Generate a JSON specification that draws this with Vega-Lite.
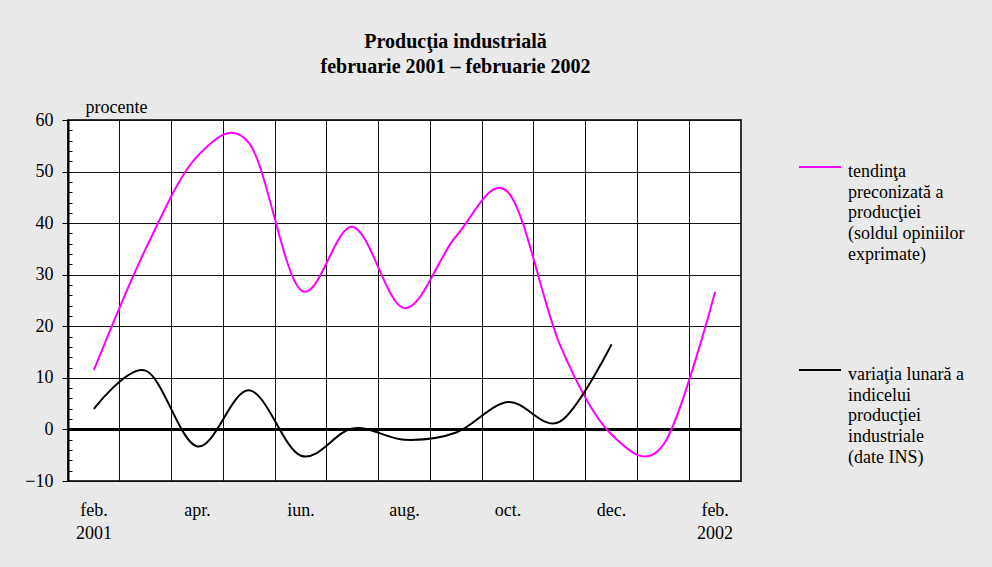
{
  "$schema": "https://vega.github.io/schema/vega-lite/v6.json",
  "autosize": {"type": "none"},
  "padding": {"left": 68, "top": 120, "right": 251, "bottom": 86},
  "width": 673,
  "height": 361,
  "background": "#e9e9e9",
  "title": {
    "text": ["Producţia industrială", "februarie 2001 – februarie 2002"],
    "anchor": "middle",
    "dx": 51,
    "offset": 21,
    "font": "Liberation Serif",
    "fontSize": 20,
    "fontWeight": "bold",
    "lineHeight": 25,
    "color": "#000"
  },
  "data": {
    "values": [
      {"luna": "feb. 2001", "serie": "tendinţa|preconizată a|producţiei|(soldul opiniilor|exprimate)", "v": 11.5},
      {"luna": "mar.", "serie": "tendinţa|preconizată a|producţiei|(soldul opiniilor|exprimate)", "v": 35},
      {"luna": "apr.", "serie": "tendinţa|preconizată a|producţiei|(soldul opiniilor|exprimate)", "v": 53},
      {"luna": "mai", "serie": "tendinţa|preconizată a|producţiei|(soldul opiniilor|exprimate)", "v": 55.5},
      {"luna": "iun.", "serie": "tendinţa|preconizată a|producţiei|(soldul opiniilor|exprimate)", "v": 27},
      {"luna": "iul.", "serie": "tendinţa|preconizată a|producţiei|(soldul opiniilor|exprimate)", "v": 39.3},
      {"luna": "aug.", "serie": "tendinţa|preconizată a|producţiei|(soldul opiniilor|exprimate)", "v": 23.5},
      {"luna": "sep.", "serie": "tendinţa|preconizată a|producţiei|(soldul opiniilor|exprimate)", "v": 37.5},
      {"luna": "oct.", "serie": "tendinţa|preconizată a|producţiei|(soldul opiniilor|exprimate)", "v": 46},
      {"luna": "nov.", "serie": "tendinţa|preconizată a|producţiei|(soldul opiniilor|exprimate)", "v": 16.5},
      {"luna": "dec.", "serie": "tendinţa|preconizată a|producţiei|(soldul opiniilor|exprimate)", "v": -1},
      {"luna": "ian.", "serie": "tendinţa|preconizată a|producţiei|(soldul opiniilor|exprimate)", "v": -3},
      {"luna": "feb. 2002", "serie": "tendinţa|preconizată a|producţiei|(soldul opiniilor|exprimate)", "v": 26.7},
      {"luna": "feb. 2001", "serie": "variaţia lunară a|indicelui|producţiei|industriale|(date INS)", "v": 4},
      {"luna": "mar.", "serie": "variaţia lunară a|indicelui|producţiei|industriale|(date INS)", "v": 11.4},
      {"luna": "apr.", "serie": "variaţia lunară a|indicelui|producţiei|industriale|(date INS)", "v": -3.3},
      {"luna": "mai", "serie": "variaţia lunară a|indicelui|producţiei|industriale|(date INS)", "v": 7.6},
      {"luna": "iun.", "serie": "variaţia lunară a|indicelui|producţiei|industriale|(date INS)", "v": -5.1},
      {"luna": "iul.", "serie": "variaţia lunară a|indicelui|producţiei|industriale|(date INS)", "v": 0.2},
      {"luna": "aug.", "serie": "variaţia lunară a|indicelui|producţiei|industriale|(date INS)", "v": -2},
      {"luna": "sep.", "serie": "variaţia lunară a|indicelui|producţiei|industriale|(date INS)", "v": -0.6},
      {"luna": "oct.", "serie": "variaţia lunară a|indicelui|producţiei|industriale|(date INS)", "v": 5.3},
      {"luna": "nov.", "serie": "variaţia lunară a|indicelui|producţiei|industriale|(date INS)", "v": 1.5},
      {"luna": "dec.", "serie": "variaţia lunară a|indicelui|producţiei|industriale|(date INS)", "v": 16.5}
    ]
  },
  "layer": [
    {
      "mark": {"type": "rule", "color": "#000", "strokeWidth": 2},
      "encoding": {
        "y": {
          "datum": 0,
          "type": "quantitative",
          "scale": {"domain": [-10, 60], "nice": false, "zero": false},
          "axis": {
            "orient": "left",
            "values": [-8, -6, -4, -2, 2, 4, 6, 8, 12, 14, 16, 18, 22, 24, 26, 28, 32, 34, 36, 38, 42, 44, 46, 48, 52, 54, 56, 58],
            "labels": false,
            "domain": false,
            "grid": false,
            "title": null,
            "ticks": true,
            "tickSize": -4,
            "tickColor": "#000",
            "tickWidth": 1
          }
        }
      }
    },
    {
      "mark": {"type": "line", "interpolate": "cardinal", "strokeWidth": 2},
      "encoding": {
        "x": {
          "field": "luna",
          "type": "ordinal",
          "sort": null,
          "scale": {"type": "band", "paddingInner": 0, "paddingOuter": 0},
          "axis": {
            "title": null,
            "bandPosition": 0,
            "grid": true,
            "gridColor": "#111",
            "gridWidth": 1,
            "gridOpacity": 1,
            "ticks": false,
            "domain": false,
            "labelAngle": 0,
            "labelAlign": "center",
            "labelOffset": 0,
            "labelPadding": 20,
            "labelOverlap": false,
            "labelBound": false,
            "labelFlush": false,
            "labelLineHeight": 23,
            "labelExpr": "indexof(['feb. 2001','apr.','iun.','aug.','oct.','dec.','feb. 2002'], datum.value) >= 0 ? split(datum.value, ' ') : ''"
          }
        },
        "y": {
          "field": "v",
          "type": "quantitative",
          "scale": {"domain": [-10, 60], "nice": false, "zero": false},
          "axis": {
            "orient": "left",
            "values": [-10, 0, 10, 20, 30, 40, 50, 60],
            "title": "procente",
            "titleAngle": 0,
            "titleAlign": "left",
            "titleBaseline": "alphabetic",
            "titleX": 17,
            "titleY": -8,
            "titleFont": "Liberation Serif",
            "titleFontSize": 18,
            "titleFontWeight": "normal",
            "titleColor": "#000",
            "grid": true,
            "gridColor": "#111",
            "gridWidth": 1,
            "gridOpacity": 1,
            "domain": true,
            "domainColor": "#000",
            "domainWidth": 2,
            "tickSize": 6,
            "tickColor": "#000",
            "tickWidth": 1,
            "labelPadding": 9
          }
        },
        "color": {
          "field": "serie",
          "type": "nominal",
          "scale": {
            "domain": ["tendinţa|preconizată a|producţiei|(soldul opiniilor|exprimate)", "variaţia lunară a|indicelui|producţiei|industriale|(date INS)"],
            "range": ["#ff00ff", "#000000"]
          },
          "legend": {
            "orient": "none",
            "legendX": 730,
            "legendY": 25,
            "title": null,
            "symbolType": "stroke",
            "symbolSize": 1764,
            "symbolStrokeWidth": 2,
            "labelFont": "Liberation Serif",
            "labelFontSize": 18,
            "labelColor": "#000",
            "labelBaseline": "top",
            "labelOffset": 6,
            "labelLimit": 300,
            "rowPadding": 84,
            "labelExpr": "split(datum.label, '|')",
            "encoding": {"labels": {"dy": {"value": -4}}}
          }
        }
      }
    }
  ],
  "resolve": {"axis": {"y": "independent"}},
  "config": {
    "font": "Liberation Serif",
    "view": {"fill": "#ffffff", "stroke": "#333333", "strokeWidth": 2},
    "axis": {
      "labelFont": "Liberation Serif",
      "labelFontSize": 18,
      "labelColor": "#000"
    },
    "style": {"guide-label": {"lineHeight": 20.7}}
  }
}
